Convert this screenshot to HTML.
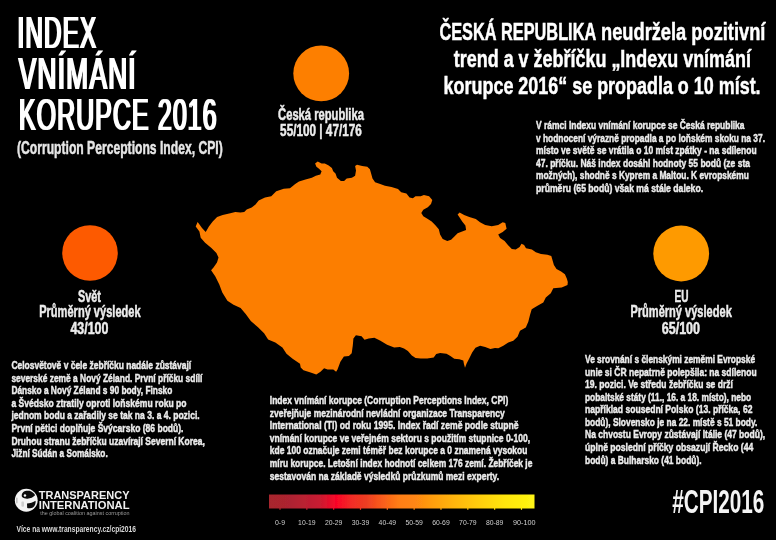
<!DOCTYPE html>
<html lang="cs"><head><meta charset="utf-8"><title>Index vnímání korupce 2016</title>
<style>html,body{margin:0;padding:0;background:#000;}body{width:776px;height:540px;overflow:hidden;}svg{display:block}text{font-family:"Liberation Sans",sans-serif;}</style></head><body>
<svg width="776" height="540" viewBox="0 0 776 540">
<defs><linearGradient id="g" gradientUnits="userSpaceOnUse" x1="269" x2="534.5" y1="0" y2="0"><stop offset="0" stop-color="#a7252d"/><stop offset="0.08" stop-color="#ad2430"/><stop offset="0.19" stop-color="#c81c30"/><stop offset="0.255" stop-color="#fa0428"/><stop offset="0.31" stop-color="#f22c26"/><stop offset="0.365" stop-color="#ee3d22"/><stop offset="0.425" stop-color="#fa5c1c"/><stop offset="0.49" stop-color="#ff7e14"/><stop offset="0.55" stop-color="#ff8612"/><stop offset="0.61" stop-color="#ff9c10"/><stop offset="0.70" stop-color="#ffb60c"/><stop offset="0.795" stop-color="#ffcf08"/><stop offset="0.89" stop-color="#ffe608"/><stop offset="1" stop-color="#fff614"/></linearGradient><filter id="m" x="-5%" width="110%"><feMorphology operator="dilate" radius="1 0"/></filter><filter id="b" x="-5%" y="-5%" width="110%" height="110%"><feGaussianBlur stdDeviation="0.7"/></filter></defs>
<rect width="776" height="540" fill="#000"/>
<g filter="url(#b)">
<g id="map">
<polygon fill="#fc7e01" points="197.6,222 199.5,224.5 202,228 205.7,232.1 208.9,226.4 212.7,221.4 217.1,217 222.7,214.9 230.3,213.2 235.3,212 240.4,212.6 244.2,212 246.7,209.4 251.7,207.6 255.5,204.5 258.7,200.5 265,197.5 271.25,196.25 276.25,191.25 283.75,188.75 290,188.3 295.2,184.1 299,181.6 305.5,179.6 311.9,177.7 315.8,175.8 320.3,174.5 321.6,171.3 319,168.7 316.4,166.8 315.1,163.5 317.7,161.6 321.6,163.5 324.8,163.5 328.7,165.5 331.9,168 333.2,171.3 335.5,173.5 337,177.7 340.9,180.9 344.1,180.9 346.7,178.4 351.9,177.7 355.1,175.8 356,170.6 355.1,166.1 357,164.8 362.2,166.1 367.3,166.8 369.9,169.3 371.2,173.8 372.5,178.4 375.1,182.2 380.2,184.1 385,185.8 391.5,187.1 398,189.1 401.2,192.3 406.4,193.6 409.6,197.5 412.9,198.2 415.5,196.2 420.7,196.2 423.9,194.9 429.1,196.2 432.3,200.1 431,204 427.8,207.2 423.3,209.8 421.3,213.1 423.3,216.3 427.8,218.9 431.7,221.5 435.6,225.4 438.8,229.3 440.1,234.5 442.7,239 447.3,241 451.1,239.7 454.4,236.4 457.6,233.2 462.8,231.2 466.1,229.9 465.4,225.4 462.2,221.5 459.6,217.6 457.6,214.4 459.6,212.4 464.1,215 469.3,217 475.8,218.9 480,222.3 485.2,224.9 491.7,226.2 498.2,224.9 502.7,222.3 505.3,223 506.6,228.8 502.7,232 498.2,234.6 500.1,237.9 504.6,241.1 507.9,245 511.8,248.9 515.7,249.6 519.6,247 521.5,243.7 524.1,245 526,248.3 531.9,249.6 535.8,252.2 541,254.1 547.4,254.7 551.3,256 552.6,260.6 553.9,265.1 556.5,269 561.1,271.6 564.9,274.2 566.9,278.7 567.8,282 567.5,285 561.7,287.5 553.3,288.3 550.8,293.3 545.8,297.5 543.3,302.5 537.5,305.8 531.7,309.2 530,315 528.3,321.7 525.8,327.5 520,330.8 517.5,336.7 513.3,340.8 508.3,342.5 503.3,345.8 498.3,348.3 495,347.9 490.4,349 485.2,347.1 480.1,345.8 475.5,347.7 472.3,352.2 469.1,358.7 466.5,363.8 465,367.7 463.9,363.8 463.3,360.6 459.4,359.3 454.3,358.7 450.4,356.1 446.5,353.8 440.1,352.9 436.2,354.1 433.7,357.4 427.2,358.4 420.8,358.4 415.6,358 411.8,355.4 407.9,350.9 404,348.4 399.9,346.9 394.2,347.6 387.1,344.8 380,340.6 374.4,337.7 368.7,338.4 364.5,339.8 361.6,336.3 355.9,335.3 353.4,338.4 352.8,345.5 351.7,353.3 348.9,356.1 343.9,356.6 340.4,361.8 337.5,369.6 336.1,371.7 333.3,369.6 327.6,369.6 324.1,368.2 320.5,371.7 316.3,374.6 310.6,372.4 303.5,370.3 300.7,367.5 300,363.8 292.6,358.8 286.5,353.7 282.4,347.6 275.3,342.5 268.1,339.4 264.1,333.3 258,327.2 250.8,321.1 245.7,314 240.6,307.9 233.5,304.8 227.4,300.7 222.3,292.6 219.3,284.4 215.2,276.3 211.1,270.2 213.5,267.5 217,262.5 218.5,257.5 216.4,253 211.4,247.9 205.1,242.8 200.7,237.8 199.4,231.5 195.7,226.4"/>
</g>
<g id="title">
<text x="17.6" y="47.7" font-size="43.6" font-weight="normal" fill="#fff" textLength="79.7" lengthAdjust="spacingAndGlyphs" filter="url(#m)" letter-spacing="2.2">INDEX</text>
<text x="18.8" y="88.8" font-size="43.6" font-weight="normal" fill="#fff" textLength="118.1" lengthAdjust="spacingAndGlyphs" filter="url(#m)" letter-spacing="2.2">VNÍMÁNÍ</text>
<text x="19.0" y="129.7" font-size="43.6" font-weight="normal" fill="#fff" textLength="198.8" lengthAdjust="spacingAndGlyphs" filter="url(#m)" letter-spacing="2.2">KORUPCE 2016</text>
<text x="17.0" y="153.6" font-size="18.4" font-weight="bold" fill="#e6e6e6" textLength="205.7" lengthAdjust="spacingAndGlyphs" stroke="#e6e6e6" stroke-width="0.5">(Corruption Perceptions Index, CPI)</text>
</g>
<g id="headline">
<text x="439.4" y="39.6" font-size="24.3" font-weight="bold" fill="#fff" textLength="156.8" lengthAdjust="spacingAndGlyphs" stroke="#fff" stroke-width="0.5">ČESKÁ REPUBLIKA</text>
<text x="601.0" y="39.6" font-size="24.3" font-weight="bold" fill="#fff" textLength="164.4" lengthAdjust="spacingAndGlyphs" stroke="#fff" stroke-width="0.5">neudržela pozitivní</text>
<text x="453.8" y="66.9" font-size="24.3" font-weight="bold" fill="#fff" textLength="297.2" lengthAdjust="spacingAndGlyphs" stroke="#fff" stroke-width="0.5">trend a v žebříčku „Indexu vnímání</text>
<text x="443.6" y="93.7" font-size="24.3" font-weight="bold" fill="#fff" textLength="317.0" lengthAdjust="spacingAndGlyphs" stroke="#fff" stroke-width="0.5">korupce 2016“ se propadla o 10 míst.</text>
</g>
<g id="stat-cz">
<circle cx="321.2" cy="73.4" r="27.9" fill="#fd7f04"/>
<text x="278.1" y="119.9" font-size="16.2" font-weight="bold" fill="#ececec" textLength="85.8" lengthAdjust="spacingAndGlyphs" stroke="#ececec" stroke-width="0.5">Česká republika</text>
<text x="280.1" y="136.1" font-size="16.2" font-weight="bold" fill="#ececec" textLength="81.7" lengthAdjust="spacingAndGlyphs" stroke="#ececec" stroke-width="0.5">55/100 | 47/176</text>
</g>
<g id="stat-world">
<circle cx="90" cy="253" r="27.8" fill="#fd5a01"/>
<text x="78.0" y="301.6" font-size="16.2" font-weight="bold" fill="#ececec" textLength="23.0" lengthAdjust="spacingAndGlyphs" stroke="#ececec" stroke-width="0.5">Svět</text>
<text x="39.2" y="317.0" font-size="16.2" font-weight="bold" fill="#ececec" textLength="101.4" lengthAdjust="spacingAndGlyphs" stroke="#ececec" stroke-width="0.5">Průměrný výsledek</text>
<text x="70.4" y="333.8" font-size="16.2" font-weight="bold" fill="#ececec" textLength="38.0" lengthAdjust="spacingAndGlyphs" stroke="#ececec" stroke-width="0.5">43/100</text>
</g>
<g id="stat-eu">
<circle cx="681.2" cy="253.5" r="27.9" fill="#fe9a04"/>
<text x="674.6" y="301.6" font-size="16.2" font-weight="bold" fill="#ececec" textLength="14.0" lengthAdjust="spacingAndGlyphs" stroke="#ececec" stroke-width="0.5">EU</text>
<text x="630.4" y="317.3" font-size="16.2" font-weight="bold" fill="#ececec" textLength="101.4" lengthAdjust="spacingAndGlyphs" stroke="#ececec" stroke-width="0.5">Průměrný výsledek</text>
<text x="661.7" y="334.2" font-size="16.2" font-weight="bold" fill="#ececec" textLength="38.4" lengthAdjust="spacingAndGlyphs" stroke="#ececec" stroke-width="0.5">65/100</text>
</g>
<g id="para-cz">
<text x="536.0" y="129.2" font-size="11.4" font-weight="bold" fill="#ececec" textLength="208.5" lengthAdjust="spacingAndGlyphs" stroke="#ececec" stroke-width="0.45">V rámci Indexu vnímání korupce se Česká republika</text>
<text x="536.0" y="141.8" font-size="11.4" font-weight="bold" fill="#ececec" textLength="229.0" lengthAdjust="spacingAndGlyphs" stroke="#ececec" stroke-width="0.45">v hodnocení výrazně propadla a po loňském skoku na 37.</text>
<text x="536.0" y="154.3" font-size="11.4" font-weight="bold" fill="#ececec" textLength="220.6" lengthAdjust="spacingAndGlyphs" stroke="#ececec" stroke-width="0.45">místo ve světě se vrátila o 10 míst zpátky - na sdílenou</text>
<text x="536.0" y="166.9" font-size="11.4" font-weight="bold" fill="#ececec" textLength="214.0" lengthAdjust="spacingAndGlyphs" stroke="#ececec" stroke-width="0.45">47. příčku. Náš index dosáhl hodnoty 55 bodů (ze sta</text>
<text x="536.0" y="179.4" font-size="11.4" font-weight="bold" fill="#ececec" textLength="212.8" lengthAdjust="spacingAndGlyphs" stroke="#ececec" stroke-width="0.45">možných), shodně s Kyprem a Maltou. K evropskému</text>
<text x="536.0" y="192.0" font-size="11.4" font-weight="bold" fill="#ececec" textLength="167.1" lengthAdjust="spacingAndGlyphs" stroke="#ececec" stroke-width="0.45">průměru (65 bodů) však má stále daleko.</text>
</g>
<g id="para-world">
<text x="11.4" y="369.2" font-size="11.4" font-weight="bold" fill="#ececec" textLength="179.8" lengthAdjust="spacingAndGlyphs" stroke="#ececec" stroke-width="0.45">Celosvětově v čele žebříčku nadále zůstávají</text>
<text x="11.4" y="381.7" font-size="11.4" font-weight="bold" fill="#ececec" textLength="191.0" lengthAdjust="spacingAndGlyphs" stroke="#ececec" stroke-width="0.45">severské země a Nový Zéland. První příčku sdílí</text>
<text x="11.4" y="394.3" font-size="11.4" font-weight="bold" fill="#ececec" textLength="160.9" lengthAdjust="spacingAndGlyphs" stroke="#ececec" stroke-width="0.45">Dánsko a Nový Zéland s 90 body, Finsko</text>
<text x="11.4" y="406.8" font-size="11.4" font-weight="bold" fill="#ececec" textLength="175.1" lengthAdjust="spacingAndGlyphs" stroke="#ececec" stroke-width="0.45">a Švédsko ztratily oproti loňskému roku po</text>
<text x="11.4" y="419.4" font-size="11.4" font-weight="bold" fill="#ececec" textLength="188.3" lengthAdjust="spacingAndGlyphs" stroke="#ececec" stroke-width="0.45">jednom bodu a zařadily se tak na 3. a 4. pozici.</text>
<text x="11.4" y="431.9" font-size="11.4" font-weight="bold" fill="#ececec" textLength="172.1" lengthAdjust="spacingAndGlyphs" stroke="#ececec" stroke-width="0.45">První pětici doplňuje Švýcarsko (86 bodů).</text>
<text x="11.4" y="444.5" font-size="11.4" font-weight="bold" fill="#ececec" textLength="193.4" lengthAdjust="spacingAndGlyphs" stroke="#ececec" stroke-width="0.45">Druhou stranu žebříčku uzavírají Severní Korea,</text>
<text x="11.4" y="457.0" font-size="11.4" font-weight="bold" fill="#ececec" textLength="96.3" lengthAdjust="spacingAndGlyphs" stroke="#ececec" stroke-width="0.45">Jižní Súdán a Somálsko.</text>
</g>
<g id="para-about">
<text x="269.8" y="403.9" font-size="11.4" font-weight="bold" fill="#ececec" textLength="238.5" lengthAdjust="spacingAndGlyphs" stroke="#ececec" stroke-width="0.45">Index vnímání korupce (Corruption Perceptions Index, CPI)</text>
<text x="269.8" y="416.5" font-size="11.4" font-weight="bold" fill="#ececec" textLength="234.8" lengthAdjust="spacingAndGlyphs" stroke="#ececec" stroke-width="0.45">zveřejňuje mezinárodní nevládní organizace Transparency</text>
<text x="269.8" y="429.1" font-size="11.4" font-weight="bold" fill="#ececec" textLength="248.7" lengthAdjust="spacingAndGlyphs" stroke="#ececec" stroke-width="0.45">International (TI) od roku 1995. Index řadí země podle stupně</text>
<text x="269.8" y="441.8" font-size="11.4" font-weight="bold" fill="#ececec" textLength="260.2" lengthAdjust="spacingAndGlyphs" stroke="#ececec" stroke-width="0.45">vnímání korupce ve veřejném sektoru s použitím stupnice 0-100,</text>
<text x="269.8" y="454.4" font-size="11.4" font-weight="bold" fill="#ececec" textLength="257.6" lengthAdjust="spacingAndGlyphs" stroke="#ececec" stroke-width="0.45">kde 100 označuje zemi téměř bez korupce a 0 znamená vysokou</text>
<text x="269.8" y="467.0" font-size="11.4" font-weight="bold" fill="#ececec" textLength="262.6" lengthAdjust="spacingAndGlyphs" stroke="#ececec" stroke-width="0.45">míru korupce. Letošní index hodnotí celkem 176 zemí. Žebříček je</text>
<text x="269.8" y="479.6" font-size="11.4" font-weight="bold" fill="#ececec" textLength="229.3" lengthAdjust="spacingAndGlyphs" stroke="#ececec" stroke-width="0.45">sestavován na základě výsledků průzkumů mezi experty.</text>
</g>
<g id="para-eu">
<text x="585.0" y="362.9" font-size="11.4" font-weight="bold" fill="#ececec" textLength="170.1" lengthAdjust="spacingAndGlyphs" stroke="#ececec" stroke-width="0.45">Ve srovnání s členskými zeměmi Evropské</text>
<text x="585.0" y="375.5" font-size="11.4" font-weight="bold" fill="#ececec" textLength="171.6" lengthAdjust="spacingAndGlyphs" stroke="#ececec" stroke-width="0.45">unie si ČR nepatrně polepšila: na sdílenou</text>
<text x="585.0" y="388.1" font-size="11.4" font-weight="bold" fill="#ececec" textLength="147.9" lengthAdjust="spacingAndGlyphs" stroke="#ececec" stroke-width="0.45">19. pozici. Ve středu žebříčku se drží</text>
<text x="585.0" y="400.7" font-size="11.4" font-weight="bold" fill="#ececec" textLength="166.1" lengthAdjust="spacingAndGlyphs" stroke="#ececec" stroke-width="0.45">pobaltské státy (11., 16. a 18. místo), nebo</text>
<text x="585.0" y="413.2" font-size="11.4" font-weight="bold" fill="#ececec" textLength="167.4" lengthAdjust="spacingAndGlyphs" stroke="#ececec" stroke-width="0.45">například sousední Polsko (13. příčka, 62</text>
<text x="585.0" y="425.8" font-size="11.4" font-weight="bold" fill="#ececec" textLength="172.3" lengthAdjust="spacingAndGlyphs" stroke="#ececec" stroke-width="0.45">bodů), Slovensko je na 22. místě s 51 body.</text>
<text x="585.0" y="438.4" font-size="11.4" font-weight="bold" fill="#ececec" textLength="180.1" lengthAdjust="spacingAndGlyphs" stroke="#ececec" stroke-width="0.45">Na chvostu Evropy zůstávají Itálie (47 bodů),</text>
<text x="585.0" y="451.0" font-size="11.4" font-weight="bold" fill="#ececec" textLength="168.2" lengthAdjust="spacingAndGlyphs" stroke="#ececec" stroke-width="0.45">úplně poslední příčky obsazují Řecko (44</text>
<text x="585.0" y="463.6" font-size="11.4" font-weight="bold" fill="#ececec" textLength="116.6" lengthAdjust="spacingAndGlyphs" stroke="#ececec" stroke-width="0.45">bodů) a Bulharsko (41 bodů).</text>
</g>
<g id="legend">
<rect x="269" y="494.5" width="265.5" height="14" fill="url(#g)"/>
<rect x="279.40" y="508" width="1.2" height="1.8" fill="url(#g)"/>
<rect x="306.23" y="508" width="1.2" height="1.8" fill="url(#g)"/>
<rect x="333.06" y="508" width="1.2" height="1.8" fill="url(#g)"/>
<rect x="359.89" y="508" width="1.2" height="1.8" fill="url(#g)"/>
<rect x="386.72" y="508" width="1.2" height="1.8" fill="url(#g)"/>
<rect x="413.55" y="508" width="1.2" height="1.8" fill="url(#g)"/>
<rect x="440.38" y="508" width="1.2" height="1.8" fill="url(#g)"/>
<rect x="467.21" y="508" width="1.2" height="1.8" fill="url(#g)"/>
<rect x="494.04" y="508" width="1.2" height="1.8" fill="url(#g)"/>
<rect x="520.87" y="508" width="1.2" height="1.8" fill="url(#g)"/>
<text x="275.0" y="524.5" font-size="7.4" font-weight="normal" fill="#cfcfcf" textLength="10.0" lengthAdjust="spacingAndGlyphs">0-9</text>
<text x="298.1" y="524.5" font-size="7.4" font-weight="normal" fill="#cfcfcf" textLength="17.5" lengthAdjust="spacingAndGlyphs">10-19</text>
<text x="324.9" y="524.5" font-size="7.4" font-weight="normal" fill="#cfcfcf" textLength="17.5" lengthAdjust="spacingAndGlyphs">20-29</text>
<text x="351.7" y="524.5" font-size="7.4" font-weight="normal" fill="#cfcfcf" textLength="17.5" lengthAdjust="spacingAndGlyphs">30-39</text>
<text x="378.6" y="524.5" font-size="7.4" font-weight="normal" fill="#cfcfcf" textLength="17.5" lengthAdjust="spacingAndGlyphs">40-49</text>
<text x="405.4" y="524.5" font-size="7.4" font-weight="normal" fill="#cfcfcf" textLength="17.5" lengthAdjust="spacingAndGlyphs">50-59</text>
<text x="432.2" y="524.5" font-size="7.4" font-weight="normal" fill="#cfcfcf" textLength="17.5" lengthAdjust="spacingAndGlyphs">60-69</text>
<text x="459.1" y="524.5" font-size="7.4" font-weight="normal" fill="#cfcfcf" textLength="17.5" lengthAdjust="spacingAndGlyphs">70-79</text>
<text x="485.9" y="524.5" font-size="7.4" font-weight="normal" fill="#cfcfcf" textLength="17.5" lengthAdjust="spacingAndGlyphs">80-89</text>
<text x="513.0" y="524.5" font-size="7.4" font-weight="normal" fill="#cfcfcf" textLength="22.5" lengthAdjust="spacingAndGlyphs">90-100</text>
</g>
<g id="logo">
<circle cx="26.25" cy="500.25" r="11.4" fill="#f4f4f4"/>
<path d="M22.1,497.1 C21.2,495.6 21.9,493.4 23.1,492.2 C24.6,490.8 28.6,490.4 30.65,491.2 C32.6,491.9 34.6,493.6 35.05,495.3 C33.4,497.2 30.4,498.6 27.5,498.7 C25.6,498.8 23.4,498.3 22.1,497.1 Z" fill="#0a0a0a"/>
<circle cx="24.95" cy="495.5" r="1.25" fill="#f4f4f4"/>
<path d="M27,503.5 C29.6,503.3 33.4,502.2 35.6,500.7 C36,503.6 34.6,506 33.2,507.2 C31.6,508.3 29,508.6 27.2,508.1 Z" fill="#0a0a0a"/>
<rect x="16.3" y="497.6" width="1.1" height="5.6" rx="0.5" fill="#9a9a9a" opacity="0.8"/>
<rect x="21.4" y="501.6" width="2.6" height="5.2" rx="1" fill="#bdbdbd" opacity="0.7"/>
<text x="38.8" y="498.7" font-size="11.7" font-weight="bold" fill="#f0f0f0" textLength="90.7" lengthAdjust="spacingAndGlyphs">TRANSPARENCY</text>
<text x="38.8" y="508.5" font-size="11.7" font-weight="bold" fill="#f0f0f0" textLength="90.7" lengthAdjust="spacingAndGlyphs">INTERNATIONAL</text>
<text x="40.2" y="515.1" font-size="4.6" font-weight="normal" fill="#9a9a9a" textLength="89.3" lengthAdjust="spacingAndGlyphs">the global coalition against corruption</text>
</g>
<g id="footer">
<text x="16.5" y="531.6" font-size="9.6" font-weight="bold" fill="#d8d8d8" textLength="119.5" lengthAdjust="spacingAndGlyphs">Více na www.transparency.cz/cpi2016</text>
</g>
<g id="hashtag">
<text x="672.2" y="512.9" font-size="32.3" font-weight="bold" fill="#f4f4f4" textLength="92.2" lengthAdjust="spacingAndGlyphs">#CPI2016</text>
</g>
</g></svg></body></html>
